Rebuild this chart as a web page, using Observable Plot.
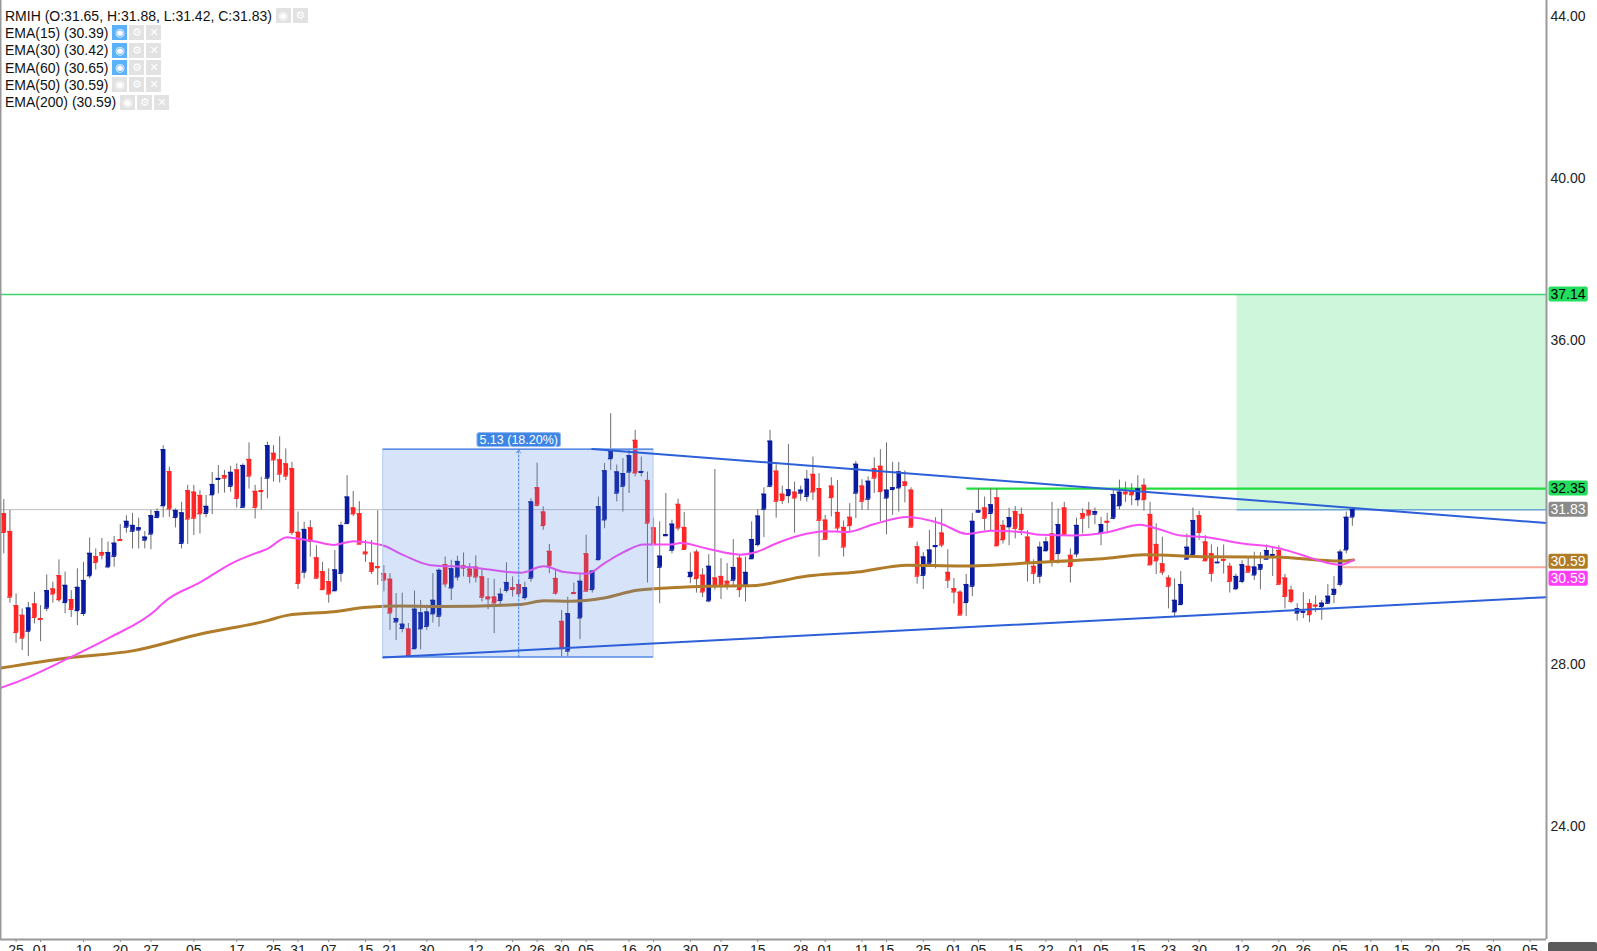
<!DOCTYPE html>
<html><head><meta charset="utf-8">
<script src="https://cdn.jsdelivr.net/npm/d3@7"></script>
<script src="https://cdn.jsdelivr.net/npm/@observablehq/plot@0.6"></script>
<style>
html,body{margin:0;padding:0;background:#fff;}
#wrap{position:relative;width:1597px;height:951px;overflow:hidden;font-family:"Liberation Sans",Arial,sans-serif;}
#wrap svg{position:absolute;left:0;top:0;}
#legend{position:absolute;left:5px;top:7px;width:400px;font-size:14px;color:#111;}
.row{height:17.3px;white-space:nowrap;display:flex;align-items:center;}
.row span{flex-shrink:0;}
.ic{display:inline-block;flex-shrink:0;width:15px;height:15px;background:#e2e2e2;color:#fff;font-size:11px;line-height:15px;text-align:center;margin-left:2px;font-family:"DejaVu Sans",sans-serif;}
.ic.first{margin-left:4px;}
.ic.on{background:#5cb2f8;}
#corner{position:absolute;left:1548px;top:942px;width:49px;height:12px;background:#5b5b5b;border-radius:2px;}
</style></head><body>
<div id="wrap"><div id="legend"></div><div id="corner"></div></div>
<script>
// ---- candle data (daily bars, index 0 = first visible bar) ----
const opens = [31.73,31.29,29.46,29.22,28.83,29.50,29.14,29.40,29.87,30.20,29.54,29.61,29.34,29.27,30.20,30.67,30.77,30.42,30.68,31.09,
31.40,31.30,31.33,31.08,31.23,31.64,31.93,32.77,31.64,31.00,32.30,32.26,32.18,31.74,32.20,32.58,32.67,32.41,32.81,31.89,
33.07,32.28,32.30,32.61,33.22,33.06,32.96,32.84,31.27,30.29,31.38,30.64,30.30,30.05,29.83,30.26,31.49,31.87,31.73,30.78,
30.51,30.42,30.25,30.11,29.06,28.90,28.88,28.40,28.89,28.95,29.26,29.20,30.47,29.90,30.17,30.44,30.36,30.41,30.17,29.67,
29.67,29.59,29.84,29.90,29.98,29.66,30.14,32.37,31.77,30.80,30.13,29.07,28.34,29.78,29.16,30.74,29.86,30.60,31.58,33.09,
32.24,32.41,32.76,33.54,32.75,32.55,31.38,30.41,31.19,30.83,31.96,31.39,30.18,30.78,30.21,29.58,30.14,30.18,30.06,30.09,
30.63,29.96,30.62,30.97,31.84,32.41,32.78,32.21,32.18,32.26,32.24,32.16,32.70,32.35,31.57,32.41,31.76,31.39,31.64,32.24,
32.41,32.09,32.84,32.90,32.12,32.33,32.37,32.51,32.31,30.91,30.21,30.51,30.92,31.25,30.28,29.88,29.79,29.54,29.94,31.77,
31.87,31.74,32.12,31.44,31.41,31.78,31.71,31.15,30.43,30.19,30.82,31.23,30.75,31.87,30.70,30.74,31.73,31.81,31.72,31.27,
31.54,31.62,31.93,32.26,32.29,32.08,32.43,31.71,30.97,30.49,30.14,29.31,29.49,30.61,30.72,31.68,31.03,30.74,30.52,30.60,
30.43,29.88,30.06,30.43,30.22,30.36,30.61,30.70,30.82,30.14,29.84,29.28,29.30,29.51,29.47,29.44,29.52,29.74,29.99,30.84,31.65];
const highs = [32.08,31.81,29.75,29.38,29.54,29.79,29.46,30.22,30.04,30.59,30.29,29.83,30.37,30.53,31.13,30.86,31.12,31.03,31.17,31.46,
31.68,31.74,31.62,31.29,31.81,31.85,33.41,32.88,31.85,32.01,32.43,32.43,32.30,32.18,32.75,32.92,32.80,32.90,32.96,32.96,
33.48,32.43,32.63,33.50,33.41,33.63,33.33,33.00,31.77,31.52,31.56,30.94,30.53,30.37,30.82,31.52,32.67,32.28,32.03,31.07,
31.07,31.80,30.45,30.25,29.76,29.77,29.02,29.82,29.59,29.47,30.25,30.37,30.66,30.58,30.68,30.76,30.50,30.69,30.37,30.13,
30.11,29.88,30.52,30.17,30.09,30.04,32.10,32.98,31.90,30.97,30.33,29.34,29.67,30.02,30.25,31.20,30.33,32.14,32.97,34.20,
32.93,33.09,33.30,33.79,33.13,32.76,31.62,31.53,32.23,31.57,32.09,31.76,30.76,30.83,30.37,30.72,32.82,30.62,30.50,31.09,
30.70,30.66,31.53,31.83,32.37,33.79,32.94,32.41,33.44,32.51,32.41,32.80,33.13,32.72,31.69,32.62,32.55,31.55,31.98,33.02,
32.57,32.64,33.11,33.31,33.48,33.00,33.00,32.79,32.37,31.03,30.77,31.32,31.63,31.84,30.84,30.13,29.83,30.23,31.74,32.34,
32.14,32.34,32.34,31.56,31.87,31.91,31.87,31.31,30.59,31.03,31.15,32.01,31.85,32.01,30.86,31.62,31.85,32.01,31.87,31.64,
31.74,32.30,32.56,32.51,32.47,32.67,32.59,32.01,31.48,31.15,30.20,30.12,30.30,31.23,31.87,31.79,31.19,30.96,30.90,30.96,
30.51,30.24,30.57,30.67,30.78,30.77,30.96,30.90,30.94,30.23,29.94,29.51,29.78,29.61,29.70,29.59,29.98,30.18,30.84,31.77,31.88];
const lows = [30.74,29.52,28.53,28.35,28.20,29.01,28.57,29.31,29.52,29.54,29.26,29.17,28.97,29.19,30.12,30.34,30.59,30.37,30.41,31.05,
31.25,30.86,30.86,30.86,30.84,31.60,31.63,31.64,31.38,30.86,30.97,31.19,31.23,31.63,31.71,32.22,32.24,32.26,31.87,31.87,
32.34,31.60,31.82,32.10,32.51,32.49,32.55,31.19,29.86,30.12,30.66,30.12,29.83,29.52,29.83,30.04,31.48,31.66,30.98,30.53,
30.23,29.96,29.80,28.85,28.60,28.79,28.19,28.37,28.37,28.85,29.03,28.93,29.90,29.59,30.07,30.17,30.00,30.02,29.55,29.36,
28.77,29.43,29.77,29.67,29.67,29.59,30.04,31.90,31.32,30.25,29.72,28.19,28.19,29.76,28.62,29.80,29.77,30.56,31.36,32.80,
32.02,31.77,32.23,32.64,32.64,30.02,30.93,29.51,31.16,30.74,31.30,30.83,30.00,29.77,29.66,29.53,29.84,29.61,29.84,29.96,
29.66,29.55,30.60,30.91,31.14,32.37,31.62,31.96,31.98,31.25,32.04,32.02,32.06,30.66,31.07,31.65,31.26,30.66,31.28,31.61,
31.81,31.81,32.23,31.53,31.21,31.69,31.77,32.00,31.40,29.99,29.86,30.46,30.37,30.89,29.88,29.50,29.22,29.19,29.68,31.74,
31.31,31.31,30.92,30.98,30.94,31.11,31.19,30.04,29.98,30.00,30.78,30.41,30.49,31.19,30.02,30.64,31.23,31.36,31.46,30.94,
31.23,31.58,31.82,32.01,31.93,31.91,31.79,30.47,30.23,30.20,29.38,29.19,29.46,30.59,30.70,31.07,30.56,30.04,30.51,30.24,
29.77,29.83,30.00,30.26,30.08,29.85,30.59,30.18,29.96,29.38,29.51,29.08,29.14,29.04,29.29,29.10,29.51,29.51,29.92,30.74,31.42];
const closes = [31.27,29.67,28.80,28.66,29.40,29.17,29.12,29.83,29.75,29.61,29.96,29.37,29.91,30.08,30.75,30.53,30.71,30.77,31.00,31.07,
31.54,31.44,31.38,31.15,31.68,31.78,33.31,31.85,31.81,31.75,31.60,31.62,31.73,31.91,32.45,32.60,32.61,32.75,32.11,32.92,
32.66,31.89,32.28,33.41,33.06,32.71,32.66,31.27,30.01,31.34,31.05,30.14,29.86,29.75,30.34,31.44,32.14,31.73,30.98,30.74,
30.31,30.40,30.09,29.28,29.14,29.00,28.23,29.37,29.28,29.30,29.59,30.33,30.00,30.37,30.55,30.39,30.19,30.17,29.67,29.63,
29.53,29.74,30.03,29.86,29.76,29.90,32.02,31.94,31.44,30.44,29.77,28.40,29.26,29.76,30.06,29.82,30.31,31.90,32.79,33.28,
32.76,32.72,33.16,32.74,32.77,31.50,30.97,30.68,31.21,31.47,31.38,30.85,30.28,30.13,29.80,30.43,29.95,29.95,29.99,30.40,
29.86,30.28,31.09,31.67,32.21,33.52,32.04,32.06,32.32,32.12,32.31,32.58,32.27,31.57,31.10,32.13,31.38,30.91,31.44,32.95,
32.04,32.53,32.61,32.28,32.31,32.37,32.76,32.43,31.40,30.19,30.66,30.83,30.94,30.96,30.09,29.80,29.23,29.98,31.54,31.80,
31.62,31.95,30.94,31.09,31.63,31.37,31.34,30.51,30.26,30.90,31.03,30.53,31.46,31.21,30.43,31.44,31.62,31.70,31.78,31.46,
31.52,32.20,32.26,32.22,32.20,32.34,32.08,30.47,30.57,30.29,29.94,29.59,29.98,30.90,31.56,31.27,30.57,30.26,30.53,30.58,
30.06,30.18,30.47,30.29,30.41,30.47,30.82,30.72,29.99,29.69,29.57,29.38,29.31,29.24,29.45,29.52,29.69,29.86,30.78,31.64,31.83];

// ---- moving averages (bar index, value) ----
const ema50Idx = [-0.5,2.7,10.4,17.4,25.0,26.1,32.1,37.5,40.8,43.0,46.2,47.3,50.6,53.8,57.1,59.8,62.0,65.3,69.6,76.1,84.3,88.1,91.4,95.2,97.9,101.1,104.4,108.8,110.4,114.7,120.2,122.9,125.6,131.1,133.8,137.6,141.9,147.4,152.8,157.2,161.0,166.4,169.1,174.6,180.0,185.4,188.2,192.0,196.3,201.7,207.2,209.9,213.2,216.4,218.1,220.2];
const ema50Val = [27.43,27.61,28.15,28.68,29.38,29.54,30.04,30.53,30.74,30.86,31.15,31.13,31.05,30.96,31.05,31.01,30.94,30.70,30.46,30.41,30.27,30.43,30.29,30.25,30.50,30.78,30.97,30.97,31.01,30.87,30.72,30.79,30.97,31.24,31.30,31.28,31.47,31.65,31.49,31.23,31.31,31.27,31.21,31.19,31.27,31.46,31.36,31.19,31.15,31.00,30.90,30.80,30.64,30.50,30.47,30.59];
const ema200Idx = [-0.5,10.4,21.2,32.1,43.0,46.2,53.8,59.3,64.7,70.7,84.3,88.1,92.4,97.9,103.3,108.8,114.7,121.8,131.1,139.2,147.4,156.1,169.1,180.0,186.0,196.3,207.2,218.0,220.2];
const ema200Val = [27.92,28.17,28.35,28.76,29.09,29.22,29.31,29.42,29.45,29.44,29.49,29.58,29.57,29.65,29.84,29.90,29.94,29.95,30.19,30.29,30.46,30.44,30.53,30.63,30.72,30.67,30.66,30.56,30.59];

// ---- drawings ----
const upperTrendIdx = [96.0, 251.67], upperTrendVal = [33.33, 31.50];
const lowerTrendIdx = [61.9, 251.67], lowerTrendVal = [28.18, 29.67];
const measureIdx = [61.9, 106.0], measureVal = [28.19, 33.32], measureMid = 84.0;
const measureLabel = "5.13 (18.20%)", measureLabelVal = 33.56;
const targetStartIdx = 201.2, targetVal = 37.14, lastClose = 31.83;
const breakoutStartIdx = 157.1, breakoutVal = 32.35;
const emaRefStartIdx = 218.4, emaRefVal = 30.41;

// ---- axes ----
const tickIdx = [2,6,13,19,24,31,38,44,48,53,59,63,69,77,83,87,91,95,102,106,112,117,123,130,134,140,144,150,155,159,165,170,175,179,185,190,195,202,208,212,218,223,228,233,238,243,249];
const tickLbl = ["25","01","10","20","27","05","17","25","31","07","15","21","30","12","20","26","30","05","16","20","30","07","15","28","01","11","15","25","01","05","15","22","01","05","15","23","30","12","20","26","05","10","15","20","25","30","05"];
const yTicks = [24, 28, 36, 40, 44];

// ---- price tags on right axis ----
const lineTagVals = [37.14, 32.35, 31.83];
const lineTagBg = ["#22dd5e", "#22dd5e", "#8a8a8a"];
const lineTagFg = ["#000", "#000", "#fff"];
const emaTagVals = [30.59, 30.59];
const emaTagBg = ["#b07b26", "#ff3df7"];

// ---- legend ----
const legendLines = ["RMIH (O:31.65, H:31.88, L:31.42, C:31.83)", "EMA(15) (30.39)", "EMA(30) (30.42)", "EMA(60) (30.65)", "EMA(50) (30.59)", "EMA(200) (30.59)"];
const legendEyeOn = [false, true, true, true, false, false];

const xMin = -0.54, xMax = 251.67, yMin = 21.217, yMax = 44.402;

const candles = opens.map((o, i) => ({i, open: o, high: highs[i], low: lows[i], close: closes[i], up: closes[i] >= o}));
const UP = "#0b1b9e", DOWN = "#ff2626";
const col = d => d.up ? UP : DOWN;
const ema50 = ema50Idx.map((x, k) => ({x, y: ema50Val[k]}));
const ema200 = ema200Idx.map((x, k) => ({x, y: ema200Val[k]}));
const upper = upperTrendIdx.map((x, k) => ({x, y: upperTrendVal[k]}));
const lower = lowerTrendIdx.map((x, k) => ({x, y: lowerTrendVal[k]}));
const tickMap = new Map(tickIdx.map((t, k) => [t, tickLbl[k]]));

const chart = Plot.plot({
  width: 1597, height: 951,
  marginLeft: 0, marginRight: 51, marginTop: 0, marginBottom: 12,
  style: {fontFamily: "Liberation Sans, Arial, sans-serif", fontSize: "14px", color: "#222", background: "transparent", overflow: "visible"},
  x: {type: "linear", domain: [xMin, xMax]},
  y: {type: "linear", domain: [yMin, yMax]},
  marks: [
    Plot.rect([0], {x1: targetStartIdx, x2: xMax, y1: lastClose, y2: targetVal, fill: "#cdf6db"}),
    Plot.ruleY([lastClose], {stroke: "#bdbdbd", strokeWidth: 1}),
    Plot.ruleY([targetVal], {stroke: "#3fd26f", strokeWidth: 1.5}),
    Plot.ruleY([lastClose], {x1: targetStartIdx, x2: xMax, stroke: "#6aa6d8", strokeWidth: 1.5}),
    Plot.ruleY([breakoutVal], {x1: breakoutStartIdx, x2: xMax, stroke: "#22dd3e", strokeWidth: 2.2}),
    // candles
    Plot.ruleX(candles, {x: "i", y1: "low", y2: "high", stroke: "#6e6e6e", strokeWidth: 1}),
    Plot.ruleX(candles, {x: "i", y1: "open", y2: "close", stroke: col, strokeWidth: 4.6}),
    Plot.ruleY(candles, {y: "open", x1: d => d.i - 0.375, x2: d => d.i + 0.375, stroke: col, strokeWidth: 1.3}),
    Plot.ruleY(candles, {y: "close", x1: d => d.i - 0.375, x2: d => d.i + 0.375, stroke: col, strokeWidth: 1.3}),
    // moving averages
    Plot.line(ema200, {x: "x", y: "y", stroke: "#b07c2a", strokeWidth: 3, curve: "monotone-x"}),
    Plot.line(ema50, {x: "x", y: "y", stroke: "#f74cf3", strokeWidth: 2, curve: "monotone-x"}),
    Plot.ruleY([emaRefVal], {x1: emaRefStartIdx, x2: xMax, stroke: "#f2a797", strokeWidth: 2}),
    // measure box
    Plot.rect([0], {x1: measureIdx[0], x2: measureIdx[1], y1: measureVal[0], y2: measureVal[1], fill: "#4a7fe0", fillOpacity: 0.22, stroke: "#b4cbf2", strokeWidth: 1}),
    Plot.ruleY(measureVal, {x1: measureIdx[0], x2: measureIdx[1], stroke: "#5d8ee6", strokeWidth: 1.5}),
    Plot.arrow([0], {x1: measureMid, y1: measureVal[0], x2: measureMid, y2: measureVal[1], stroke: "#3f7fe0", strokeWidth: 1, strokeDasharray: "2,2", headLength: 6}),
    // trend lines
    Plot.line(upper, {x: "x", y: "y", stroke: "#2d5fd8", strokeWidth: 2}),
    Plot.line(lower, {x: "x", y: "y", stroke: "#2d5fd8", strokeWidth: 2}),
    Plot.text([measureLabel], {x: measureMid, y: measureLabelVal, text: d => d, fill: "#fff", fontSize: 12.5, ariaDescription: "mtag"}),
    // axes
    Plot.axisX({ticks: tickIdx, tickFormat: d => tickMap.get(d), tickSize: 3, tickPadding: 3, stroke: "#888", fill: "#222", label: null}),
    Plot.axisY({anchor: "right", ticks: yTicks, tickFormat: d => d.toFixed(2), tickSize: 0, tickPadding: 4, fill: "#222", label: null}),
    Plot.ruleX([xMin], {stroke: "#999", strokeWidth: 2}),
    Plot.ruleX([xMax], {stroke: "#999", strokeWidth: 2}),
    Plot.ruleY([yMin], {stroke: "#999", strokeWidth: 2}),
    // right tags
    Plot.text(lineTagVals, {y: d => d, text: d => d.toFixed(2), frameAnchor: "right", textAnchor: "start", dx: 4, fill: (d, k) => lineTagFg[k], ariaDescription: "tag"}),
    Plot.text([emaTagVals[0]], {y: d => d, text: d => d.toFixed(2), frameAnchor: "right", textAnchor: "start", dx: 4, dy: 2, fill: "#fff", ariaDescription: "tag"}),
    Plot.text([emaTagVals[1]], {y: d => d, text: d => d.toFixed(2), frameAnchor: "right", textAnchor: "start", dx: 4, dy: 19, fill: "#fff", ariaDescription: "tag"})
  ]
});

const wrap = document.getElementById("wrap");
wrap.prepend(chart);

function addBg(text, color, padX, padY, stroke) {
  const b = text.getBBox();
  const r = document.createElementNS("http://www.w3.org/2000/svg", "rect");
  r.setAttribute("x", b.x - padX);
  r.setAttribute("y", b.y - padY);
  r.setAttribute("width", b.width + 2 * padX);
  r.setAttribute("height", b.height + 2 * padY);
  r.setAttribute("fill", color);
  r.setAttribute("rx", 2);
  if (stroke) { r.setAttribute("stroke", stroke); r.setAttribute("stroke-width", 1); }
  const tr = text.getAttribute("transform");
  if (tr) r.setAttribute("transform", tr);
  text.parentNode.insertBefore(r, text);
}
const tagColors = [...lineTagBg, ...emaTagBg];
let k = 0;
chart.querySelectorAll('g[aria-description="tag"] text').forEach(t => { addBg(t, tagColors[k++] || "#888", 2, -0.5); });
chart.querySelectorAll('g[aria-description="mtag"] text').forEach(t => { addBg(t, "#3d85e4", 2.5, 0, "#8db6ef"); });

// legend
const leg = document.getElementById("legend");
legendLines.forEach((s, i) => {
  const row = document.createElement("div");
  row.className = "row";
  const sp = document.createElement("span");
  sp.textContent = s;
  row.appendChild(sp);
  const icons = i === 0 ? ["\u25C9", "\u2699"] : ["\u25C9", "\u2699", "\u2715"];
  icons.forEach((c, j) => {
    const ic = document.createElement("span");
    ic.className = "ic" + (j === 0 ? " first" : "") + (j === 0 && legendEyeOn[i] ? " on" : "");
    ic.textContent = c;
    row.appendChild(ic);
  });
  leg.appendChild(row);
});
</script></body></html>
